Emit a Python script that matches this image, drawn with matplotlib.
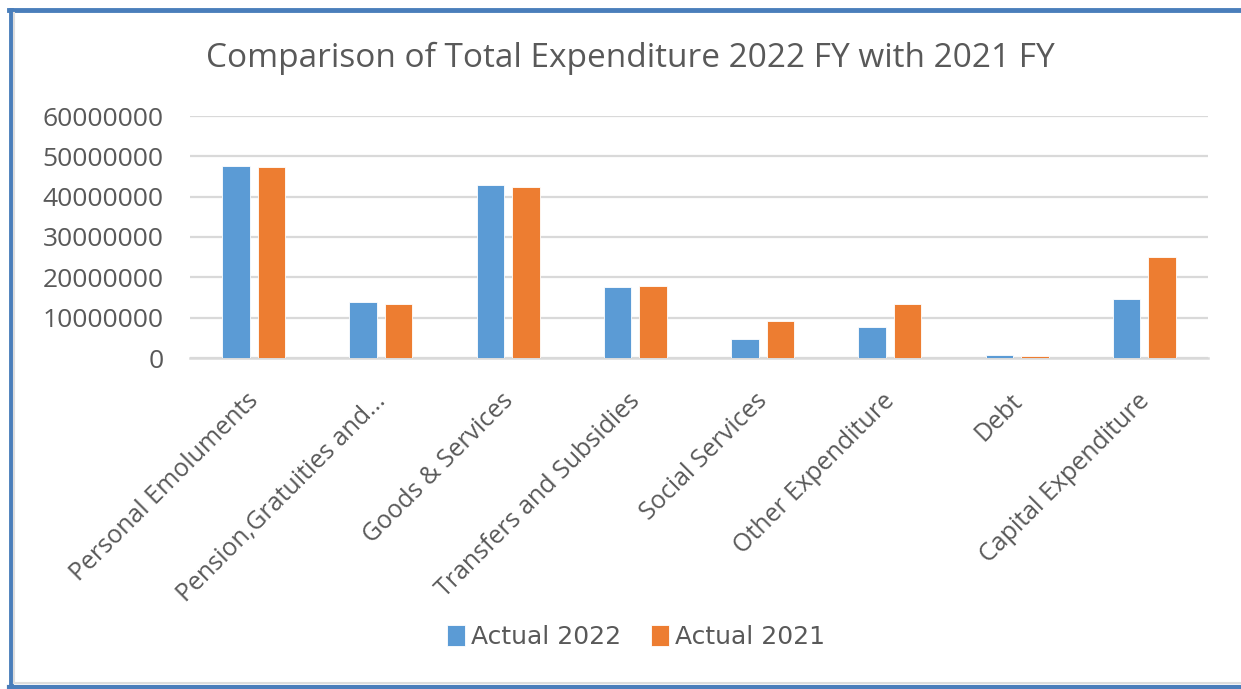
import matplotlib.pyplot as plt
import numpy as np
from matplotlib.lines import Line2D

categories = ["Personal Emoluments", "Pension,Gratuities and...", "Goods & Services",
              "Transfers and Subsidies", "Social Services", "Other Expenditure",
              "Debt", "Capital Expenditure"]
actual_2022 = [47700000, 13800000, 43000000, 17600000, 4600000, 7600000, 800000, 14600000]
actual_2021 = [47400000, 13500000, 42500000, 17950000, 9050000, 13500000, 550000, 25100000]
yticks = [0, 10000000, 20000000, 30000000, 40000000, 50000000, 60000000]

BLUE = "#5B9BD5"
ORANGE = "#ED7D31"
TEXT = "#595959"
GRID = "#D9D9D9"
FRAME = "#4A7EBB"

W, H = 1241, 689
fig = plt.figure(figsize=(W / 100, H / 100), dpi=100)
ax = fig.add_axes([190 / W, 1 - 358 / H, (1208 - 190) / W, (358 - 116) / H])

x = np.arange(len(categories))
width = 0.217
offset = 0.14
ax.bar(x - offset, actual_2022, width, color=BLUE, edgecolor="white", linewidth=0.6,
       label="Actual 2022", zorder=3)
ax.bar(x + offset, actual_2021, width, color=ORANGE, edgecolor="white", linewidth=0.6,
       label="Actual 2021", zorder=3)

ax.set_xlim(-0.5, len(categories) - 0.5)
ax.set_ylim(0, 60000000)
ax.set_yticks(yticks)
ax.set_yticklabels([str(v) for v in yticks], fontsize=19, color=TEXT, family="Open Sans")
ax.yaxis.grid(True, color=GRID, linewidth=1.6, zorder=0)
ax.set_axisbelow(True)
for side in ["top", "right", "left"]:
    ax.spines[side].set_visible(False)
ax.spines["bottom"].set_color(GRID)
ax.spines["bottom"].set_linewidth(1.8)
ax.tick_params(axis="both", length=0)
ax.tick_params(axis="y", pad=19)

ax.set_xticks(x - 0.06)
ax.set_xticklabels(categories, rotation=45, ha="right", rotation_mode="anchor",
                   fontsize=18, color=TEXT, family="Open Sans")
ax.tick_params(axis="x", pad=22)

fig.text(630 / W, 1 - 58 / H, "Comparison of Total Expenditure 2022 FY with 2021 FY",
         ha="center", va="center", fontsize=24, color=TEXT, family="Open Sans")

leg = fig.legend(loc="center", bbox_to_anchor=(636 / W, 1 - 637 / H), ncol=2,
                 frameon=False, handlelength=0.7, handleheight=0.9, handletextpad=0.25,
                 columnspacing=1.2,
                 prop={"family": ["Liberation Sans Narrow", "DejaVu Sans"], "size": 18})
for t in leg.get_texts():
    t.set_color(TEXT)

# outer chart frame (left, top and bottom edges)
fig.add_artist(Line2D([10.5 / W, 10.5 / W], [1 - 10 / H, 1 - 687 / H],
                      transform=fig.transFigure, color=FRAME, linewidth=3.5))
fig.add_artist(Line2D([9 / W, 1], [1 - 10 / H, 1 - 10 / H],
                      transform=fig.transFigure, color=FRAME, linewidth=3.5))
fig.add_artist(Line2D([9 / W, 1], [1 - 687 / H, 1 - 687 / H],
                      transform=fig.transFigure, color=FRAME, linewidth=3.0))
fig.add_artist(Line2D([14 / W, 1], [1 - 683 / H, 1 - 683 / H],
                      transform=fig.transFigure, color="#DDDDDD", linewidth=1.5))
fig.add_artist(Line2D([14 / W, 14 / W], [1 - 13 / H, 1 - 683 / H],
                      transform=fig.transFigure, color="#DDDDDD", linewidth=1.5))

fig.savefig("out.png", dpi=100)
